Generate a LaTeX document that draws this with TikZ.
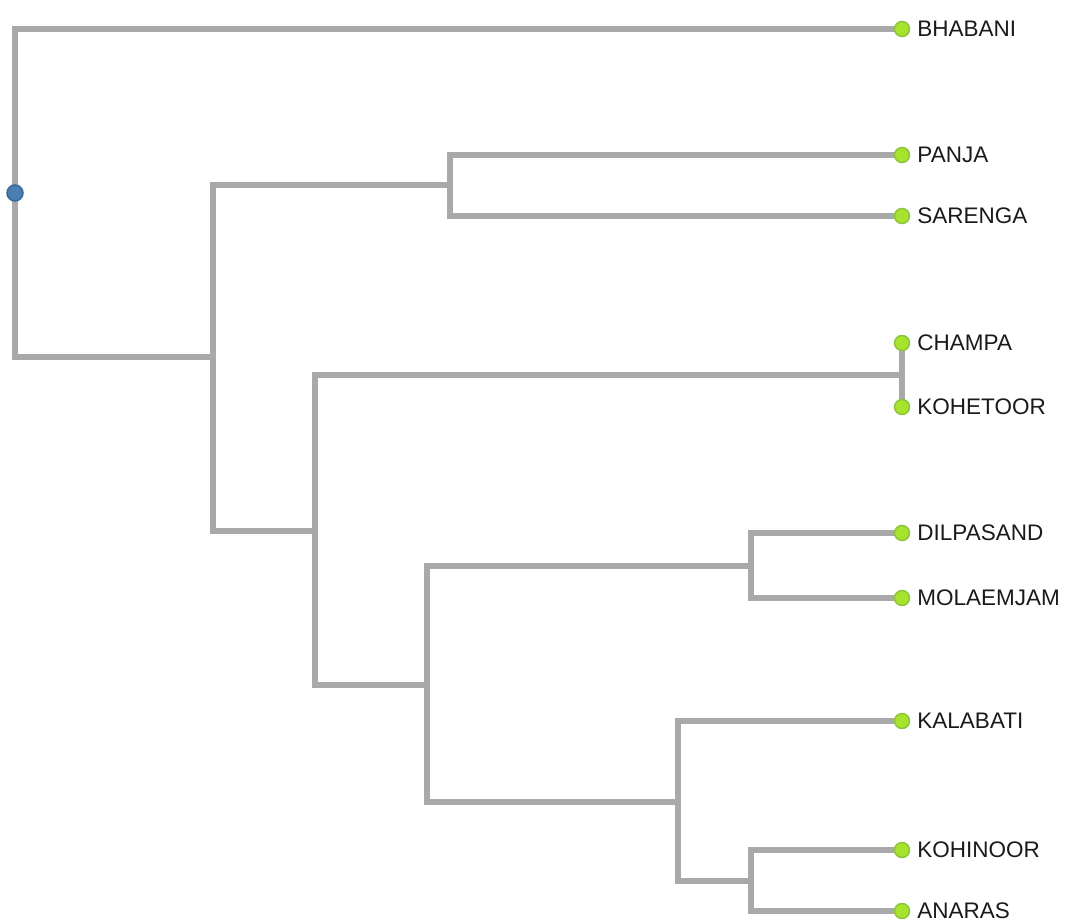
\documentclass[tikz,border=0pt]{standalone}
\usepackage{fontspec}
\setmainfont{Liberation Sans}
\usetikzlibrary{backgrounds}
\definecolor{edgegray}{HTML}{A9A9A9}
\definecolor{leafgreen}{HTML}{A6E22E}
\definecolor{leafring}{HTML}{8CC63F}
\definecolor{rootblue}{HTML}{4A7FB5}
\definecolor{rootring}{HTML}{3A6A9A}
\definecolor{labelgray}{HTML}{1A1A1A}
\tikzset{
  leaf/.style = {circle, draw=leafring, fill=leafgreen, line width=1.5pt, minimum size=15pt, inner sep=0pt,
    label={[label distance=7pt, inner sep=0pt, text=labelgray, font=\fontsize{22.5}{27}\selectfont]right:#1}},
  rootdot/.style = {circle, draw=rootring, fill=rootblue, line width=1.5pt, minimum size=16pt, inner sep=0pt},
  branch/.style = {draw=edgegray, line width=5.5pt, line cap=rect}
}
\begin{document}
\begin{tikzpicture}[x=1pt,y=-1pt]
  \useasboundingbox (0,0) rectangle (1070,920);
  % root and inner joints
  \node[rootdot] (root) at (15,193) {};
  \coordinate (panjasar) at (450,185);
  \coordinate (rest) at (213,357);
  \coordinate (lower) at (315,531);
  \coordinate (champkoh) at (902,375);
  \coordinate (bottom) at (427,685);
  \coordinate (dilmol) at (751,566);
  \coordinate (kalgroup) at (678,802);
  \coordinate (kohana) at (751,881);
  % leaves
  \node[leaf=BHABANI] (bhabani) at (902,29) {};
  \node[leaf=PANJA] (panja) at (902,155) {};
  \node[leaf=SARENGA] (sarenga) at (902,216) {};
  \node[leaf=CHAMPA] (champa) at (902,343) {};
  \node[leaf=KOHETOOR] (kohetoor) at (902,407) {};
  \node[leaf=DILPASAND] (dilpasand) at (902,533) {};
  \node[leaf=MOLAEMJAM] (molaemjam) at (902,598) {};
  \node[leaf=KALABATI] (kalabati) at (902,721) {};
  \node[leaf=KOHINOOR] (kohinoor) at (902,850) {};
  \node[leaf=ANARAS] (anaras) at (902,911) {};
  % branches
  \begin{scope}[on background layer]
    \draw[branch] (root.center) |- (bhabani.center);
    \draw[branch] (root.center) |- (rest);
    \draw[branch] (rest) |- (panjasar);
    \draw[branch] (rest) |- (lower);
    \draw[branch] (panjasar) |- (panja.center);
    \draw[branch] (panjasar) |- (sarenga.center);
    \draw[branch] (lower) |- (champkoh);
    \draw[branch] (lower) |- (bottom);
    \draw[branch] (champkoh) -- (champa.center);
    \draw[branch] (champkoh) -- (kohetoor.center);
    \draw[branch] (bottom) |- (dilmol);
    \draw[branch] (bottom) |- (kalgroup);
    \draw[branch] (dilmol) |- (dilpasand.center);
    \draw[branch] (dilmol) |- (molaemjam.center);
    \draw[branch] (kalgroup) |- (kalabati.center);
    \draw[branch] (kalgroup) |- (kohana);
    \draw[branch] (kohana) |- (kohinoor.center);
    \draw[branch] (kohana) |- (anaras.center);
  \end{scope}
\end{tikzpicture}
\end{document}
